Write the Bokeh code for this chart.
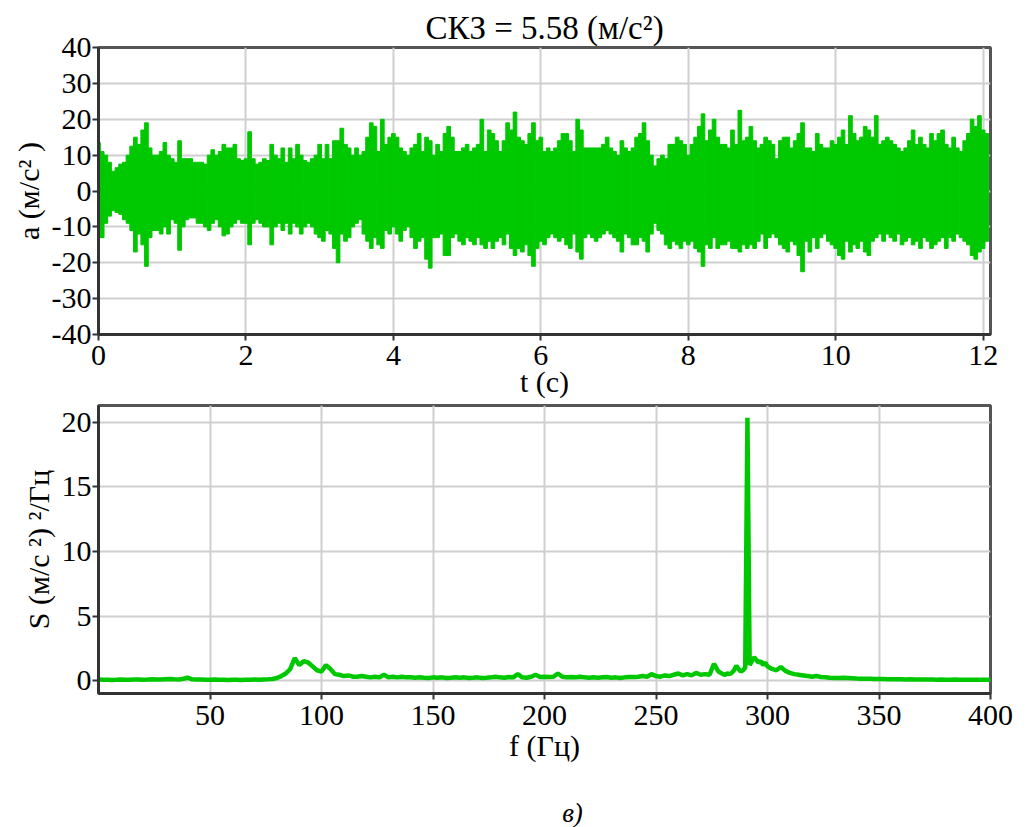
import numpy as np
from bokeh.plotting import figure
from bokeh.layouts import column
from bokeh.models import Range1d, FixedTicker
from bokeh.core.properties import value
from bokeh.embed import file_html
from bokeh.resources import INLINE

# ---------------- data ----------------
# time signal: upper / lower envelope of the acceleration, sampled every 0.05 s
t_step = 0.05
acc_upper = [
    13.5, 11, 10, 8, 5.5, 6.5, 7.5, 8, 10, 12.5,
    15, 13, 17, 19, 12, 10, 10, 11, 13.5, 10,
    9, 8, 14, 9, 9, 9, 8, 8, 8, 7.5,
    10, 11.5, 10, 11, 13, 12, 12, 13, 9, 8.5,
    9, 16.5, 9, 7.5, 8, 9, 8.5, 13, 10, 9,
    12, 8, 12, 9, 13, 10, 8.5, 8, 9, 10,
    13, 9, 13, 9, 14, 14, 17.5, 13, 12, 10,
    12, 10, 11, 15, 19, 18, 11, 20, 13, 15,
    16, 15, 12, 11, 10, 12, 13, 16, 11, 15,
    14, 10, 13, 11, 16, 18, 15, 11, 11, 12,
    13, 11, 12, 13, 20, 11, 17, 16, 14, 11,
    14, 19, 17, 22, 15, 14, 13, 16, 19, 14,
    15, 11, 12, 11, 12, 14, 16, 16, 14, 11,
    20, 17, 12, 12, 12, 12, 12, 13, 15, 12,
    11, 10, 14, 12, 11, 12, 15, 16, 19, 14,
    10, 7, 9, 10, 9, 13, 13, 15, 14, 13,
    10, 13, 15, 18, 21.5, 14, 17, 20, 15, 13,
    13, 12, 17, 13, 22.5, 14, 15, 18, 14, 12,
    13, 15, 14, 13, 9, 14, 15, 15, 12, 14,
    16, 19, 12, 12, 11, 16, 13, 12, 12, 14,
    13, 15, 17, 13, 21, 16, 14, 15, 18, 17,
    15, 21, 13, 14, 15, 14, 13, 12, 11, 12,
    14, 17, 13, 15, 13, 12, 16, 14, 16, 17,
    13, 12, 15, 12, 11, 14, 16, 20, 18, 21,
    17, 16,
]
acc_lower = [
    -13, -13, -9, -7, -5.5, -6, -6.5, -8, -9, -11,
    -17, -12, -15, -21, -13, -11, -11, -12, -10, -12,
    -8, -9, -16.5, -10, -8, -7.5, -7.5, -9, -9, -10,
    -11, -9, -8, -10, -12.5, -12, -10, -9, -8, -9,
    -9, -15, -9, -8, -9, -10, -10, -15, -10, -9,
    -11, -9, -12, -9, -10, -12, -10, -9, -10, -12,
    -13, -14, -11, -12, -16, -20, -12, -14, -13, -10,
    -9, -8, -12, -14, -16, -13, -15, -16, -11, -12,
    -10, -12, -14, -11, -10, -13, -16, -14, -13, -19,
    -21.5, -13, -13, -12, -18, -18, -13, -12, -14, -15,
    -13, -14, -15, -13, -15, -16, -14, -16, -14, -13,
    -15, -12, -16, -18, -16, -17, -15, -18, -21, -16,
    -14, -15, -13, -12, -13, -14, -13, -15, -16, -12,
    -17, -19, -13, -12, -13, -14, -13, -12, -11, -12,
    -13, -14, -17, -12, -13, -15, -15, -13, -14, -17,
    -12, -9, -11, -12, -15, -16, -14, -15, -16, -14,
    -15, -14, -16, -17, -21, -15, -16, -13, -16, -15,
    -15, -14, -16, -16, -17, -15, -16, -15, -16, -14,
    -12, -16, -13, -12, -13, -15, -16, -17, -14, -15,
    -18, -22.5, -14, -17, -13, -16, -13, -12, -14, -15,
    -16, -18, -19, -14, -17, -15, -16, -14, -17, -18,
    -14, -13, -12, -14, -12, -13, -14, -12, -15, -14,
    -13, -15, -14, -16, -13, -14, -16, -15, -14, -13,
    -16, -13, -14, -12, -13, -14, -15, -18, -19, -17,
    -16, -14,
]
t_vals = [round(i * t_step, 2) for i in range(len(acc_upper))]

# spectrum
freq = list(range(0, 280, 2)) + list(range(280, 301)) + list(range(302, 401, 2))
spec = [
    # 0 - 38 Hz
    0.08, 0.06, 0.07, 0.05, 0.06, 0.08, 0.07, 0.06, 0.08, 0.09,
    0.07, 0.08, 0.10, 0.09, 0.08, 0.10, 0.12, 0.10, 0.09, 0.14,
    # 40 - 78 Hz
    0.22, 0.10, 0.09, 0.08, 0.07, 0.06, 0.08, 0.07, 0.06, 0.05,
    0.07, 0.06, 0.05, 0.07, 0.06, 0.08, 0.07, 0.09, 0.10, 0.12,
    # 80 - 118 Hz
    0.20, 0.35, 0.55, 0.90, 1.75, 1.20, 1.50, 1.40, 1.10, 0.80,
    0.70, 1.20, 0.90, 0.50, 0.45, 0.35, 0.40, 0.30, 0.30, 0.35,
    # 120 - 158 Hz
    0.30, 0.25, 0.30, 0.25, 0.45, 0.25, 0.30, 0.25, 0.30, 0.25,
    0.25, 0.22, 0.25, 0.22, 0.20, 0.25, 0.22, 0.25, 0.20, 0.22,
    # 160 - 198 Hz
    0.25, 0.22, 0.25, 0.20, 0.22, 0.25, 0.20, 0.22, 0.25, 0.30,
    0.25, 0.22, 0.28, 0.25, 0.50, 0.25, 0.22, 0.30, 0.45, 0.28,
    # 200 - 238 Hz
    0.30, 0.28, 0.30, 0.55, 0.30, 0.25, 0.28, 0.25, 0.30, 0.25,
    0.22, 0.25, 0.22, 0.25, 0.28, 0.22, 0.25, 0.20, 0.25, 0.28,
    # 240 - 278 Hz
    0.28, 0.30, 0.35, 0.30, 0.50, 0.35, 0.30, 0.40, 0.35, 0.45,
    0.55, 0.40, 0.50, 0.40, 0.60, 0.45, 0.50, 0.45, 1.30, 0.70,
    # 280 - 300 Hz (1 Hz)
    0.50, 0.45, 0.55, 0.50, 0.60, 0.80, 1.15, 0.90, 0.70, 0.80,
    1.00, 20.35, 1.20, 1.50, 1.80, 1.60, 1.40, 1.50, 1.20, 1.40,
    1.10,
    # 302 - 400 Hz
    0.90, 0.80, 1.05, 0.75, 0.60, 0.50, 0.45, 0.40, 0.35, 0.30,
    0.35, 0.28, 0.25, 0.22, 0.20, 0.20, 0.22, 0.20, 0.18, 0.16,
    0.15, 0.15, 0.14, 0.13, 0.12, 0.12, 0.11, 0.10, 0.10, 0.10,
    0.09, 0.10, 0.09, 0.08, 0.09, 0.08, 0.08, 0.07, 0.08, 0.07,
    0.07, 0.08, 0.07, 0.06, 0.07, 0.06, 0.07, 0.06, 0.06, 0.06,
]

t_ticks = [0, 2, 4, 6, 8, 10, 12]
a_ticks = [-40, -30, -20, -10, 0, 10, 20, 30, 40]
a_tick_labels = ["-40", "-30", "-20", "-10", "0", "10", "20", "30", "40"]
f_ticks = [50, 100, 150, 200, 250, 300, 350, 400]
s_ticks = [0, 5, 10, 15, 20]

title_text = "СКЗ = 5.58 (м/с²)"
t_label = "t (с)"
a_label = "a (м/с² )"
f_label = "f (Гц)"
s_label = "S (м/с ²) ²/Гц"
panel_label = "в)"

GREEN = "#00C800"
FONT = "Liberation Serif"


def style(p, xt, yt):
    p.outline_line_color = "#555555"
    p.outline_line_width = 3
    p.background_fill_color = "white"
    p.border_fill_color = "white"
    for ax in (p.xaxis[0], p.yaxis[0]):
        ax.major_label_text_font = FONT
        ax.major_label_text_font_size = "30px"
        ax.major_label_text_color = "black"
        ax.axis_label_text_font = FONT
        ax.axis_label_text_font_size = "30px"
        ax.axis_label_text_font_style = "normal"
        ax.axis_label_text_color = "black"
        ax.axis_line_color = "#333333"
        ax.axis_line_width = 3
        ax.major_tick_line_color = "#333333"
        ax.major_tick_line_width = 2
        ax.major_tick_in = 0
        ax.major_tick_out = 6
        ax.minor_tick_line_color = None
    p.xaxis[0].ticker = FixedTicker(ticks=xt)
    p.yaxis[0].ticker = FixedTicker(ticks=yt)
    p.xgrid[0].ticker = FixedTicker(ticks=xt)
    p.ygrid[0].ticker = FixedTicker(ticks=yt)
    for g in (p.xgrid[0], p.ygrid[0]):
        g.grid_line_color = "#cfcfcf"
        g.grid_line_width = 2


# ---------------- top: time signal ----------------
p1 = figure(width=1035, height=404, output_backend="svg", toolbar_location=None,
            x_range=Range1d(0, 12.1), y_range=Range1d(-40, 40),
            min_border_left=98, min_border_right=45, min_border_top=47, min_border_bottom=70)
style(p1, t_ticks, a_ticks)
p1.yaxis[0].major_label_overrides = {v: s for v, s in zip(a_ticks, a_tick_labels)}
p1.title.text = title_text
p1.title.align = "center"
p1.title.offset = -9
p1.title.text_font = FONT
p1.title.text_font_size = "33px"
p1.title.text_font_style = "normal"
p1.title.text_color = "black"
p1.title.standoff = 3
p1.xaxis[0].axis_label = t_label
p1.yaxis[0].axis_label = a_label
p1.xaxis[0].major_label_standoff = 5
p1.xaxis[0].axis_label_standoff = -3
p1.yaxis[0].major_label_standoff = 1
p1.yaxis[0].axis_label_standoff = 4

p1.vbar(x=t_vals, top=acc_upper, bottom=acc_lower, width=t_step,
        fill_color=GREEN, line_color=GREEN, line_width=1)

# ---------------- bottom: spectrum ----------------
p2 = figure(width=1035, height=376, output_backend="svg", toolbar_location=None,
            x_range=Range1d(0, 400), y_range=Range1d(-1.0, 21.3),
            min_border_left=98, min_border_right=45, min_border_top=1, min_border_bottom=87)
style(p2, f_ticks, s_ticks)
p2.xaxis[0].axis_label = f_label
p2.yaxis[0].axis_label = s_label
p2.xaxis[0].major_label_standoff = 6
p2.xaxis[0].axis_label_standoff = 1
p2.yaxis[0].major_label_standoff = 1
p2.yaxis[0].axis_label_standoff = 4

p2.line(freq, spec, line_color=GREEN, line_width=4.5)

# ---------------- caption strip ----------------
p3 = figure(width=1035, height=47, output_backend="svg", toolbar_location=None,
            x_range=Range1d(0, 1035), y_range=Range1d(0, 47),
            min_border_left=0, min_border_right=0, min_border_top=0, min_border_bottom=0)
p3.xaxis.visible = False
p3.yaxis.visible = False
p3.grid.visible = False
p3.outline_line_color = None
p3.background_fill_color = "white"
p3.border_fill_color = "white"
p3.text(x=[550], y=[15], text=[panel_label], text_font=value(FONT),
        text_font_size="27px", text_font_style="italic", text_color="black",
        text_align="center", text_baseline="middle")

layout = column(p1, p2, p3)
open("out.html", "w").write(file_html(layout, INLINE))
